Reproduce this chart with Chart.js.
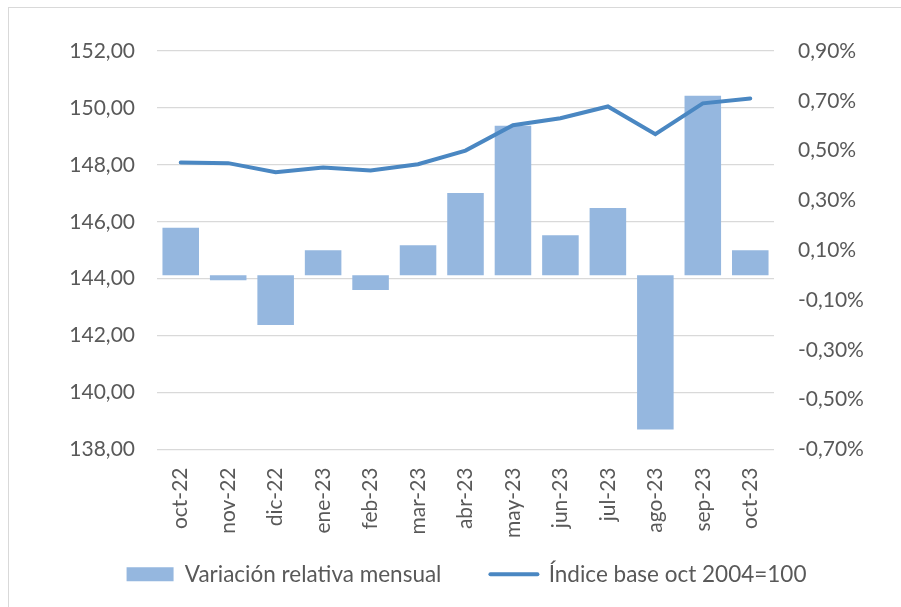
<!DOCTYPE html>
<html>
<head>
<meta charset="utf-8">
<script src="https://cdn.jsdelivr.net/npm/chart.js@4"></script>
<style>
  html, body { margin: 0; padding: 0; background: #fff; }
  #wrap { position: relative; width: 901px; height: 607px; }
  #frame { position: absolute; left: 8px; top: 7px; width: 900px; height: 610px; border: 1px solid #d9d9d9; box-sizing: border-box; }
  canvas { position: absolute; left: 0; top: 0; }
</style>
</head>
<body>
<div id="wrap">
  <div id="frame"></div>
  <canvas id="myChart" width="901" height="607"></canvas>
</div>
<script>
var months = ["oct-22","nov-22","dic-22","ene-23","feb-23","mar-23","abr-23","may-23","jun-23","jul-23","ago-23","sep-23","oct-23"]
// variacion relativa mensual, en %
var variacion = [0.19,-0.02,-0.20,0.10,-0.06,0.12,0.33,0.60,0.16,0.27,-0.62,0.72,0.10]
// indice base oct 2004 = 100
var indice = [148.08,148.06,147.74,147.91,147.80,148.02,148.50,149.39,149.64,150.05,149.08,150.16,150.33]

var leftTicks = [138,140,142,144,146,148,150,152]
var rightTicks = [-0.7,-0.5,-0.3,-0.1,0.1,0.3,0.5,0.7,0.9]

var gris = "#595959"
var fuente = "Lato"
var sepLeyenda = 49

function coma(v, dec) {
	return v.toFixed(dec).replace(".", ",")
}

// sube la leyenda: el padding de las etiquetas la deja muy abajo
var subirLeyenda = {
	id: "subirLeyenda",
	afterLayout: function(c) {
		var lg = c.legend
		var h = lg.height
		lg.top = 574 - sepLeyenda - 11
		lg.bottom = lg.top + h
	}
}

var ctx = document.getElementById("myChart").getContext("2d")
var chart = new Chart(ctx, {
	data: {
		labels: months,
		datasets: [
			{
				type: "bar",
				label: "Variación relativa mensual",
				data: variacion,
				backgroundColor: "#95b7df",
				borderWidth: 0,
				yAxisID: "yRight",
				categoryPercentage: 1,
				barPercentage: 0.77,
				order: 2
			},
			{
				type: "line",
				label: "Índice base oct 2004=100",
				data: indice,
				borderColor: "#4a87c2",
				backgroundColor: "#4a87c2",
				borderWidth: 4,
				pointRadius: 0,
				tension: 0,
				borderCapStyle: "round",
				yAxisID: "yLeft",
				order: 1
			}
		]
	},
	options: {
		responsive: false,
		animation: false,
		layout: { padding: { left: 32, top: 51, right: 0, bottom: -24 } },
		scales: {
			x: {
				grid: { display: false, drawTicks: false },
				border: { display: false },
				ticks: {
					color: gris, font: { family: fuente, size: 21 },
					minRotation: 90, maxRotation: 90, padding: 18, autoSkip: false
				},
				afterFit: function(s) { s.height = 100 }
			},
			yLeft: {
				position: "left",
				min: 138, max: 152,
				afterBuildTicks: function(s) { s.ticks = leftTicks.map(function(v){ return {value: v} }) },
				grid: { color: "#d9d9d9", lineWidth: 1.3, drawTicks: false },
				border: { display: false },
				ticks: {
					color: gris, font: { family: fuente, size: 21 }, padding: 22,
					callback: function(v) { return coma(v, 2) }
				},
				afterFit: function(s) { s.width = 125 }
			},
			yRight: {
				position: "right",
				min: -0.7, max: 0.9,
				afterBuildTicks: function(s) { s.ticks = rightTicks.map(function(v){ return {value: v} }) },
				grid: { display: false, drawTicks: false },
				border: { display: false },
				ticks: {
					color: gris, font: { family: fuente, size: 21 }, padding: 24,
					callback: function(v) { return coma(v, 2) + "%" }
				},
				afterFit: function(s) { s.width = 127 }
			}
		},
		plugins: {
			tooltip: { enabled: false },
			legend: {
				position: "bottom",
				labels: {
					color: gris,
					font: { family: fuente, size: 22.5 },
					usePointStyle: true,
					pointStyleWidth: 47,
					boxHeight: 14,
					padding: sepLeyenda,
					generateLabels: function(c) {
						var items = Chart.defaults.plugins.legend.labels.generateLabels(c)
						items.sort(function(a, b) { return a.datasetIndex - b.datasetIndex })
						items.forEach(function(it) {
							if (it.datasetIndex === 0) {
								it.pointStyle = "rect"
								it.lineWidth = 0
								it.strokeStyle = "#95b7df"
							} else {
								it.pointStyle = "line"
								it.lineWidth = 4
								it.lineCap = "round"
							}
						})
						return items
					}
				}
			}
		}
	},
	plugins: [subirLeyenda]
})
</script>
</body>
</html>
